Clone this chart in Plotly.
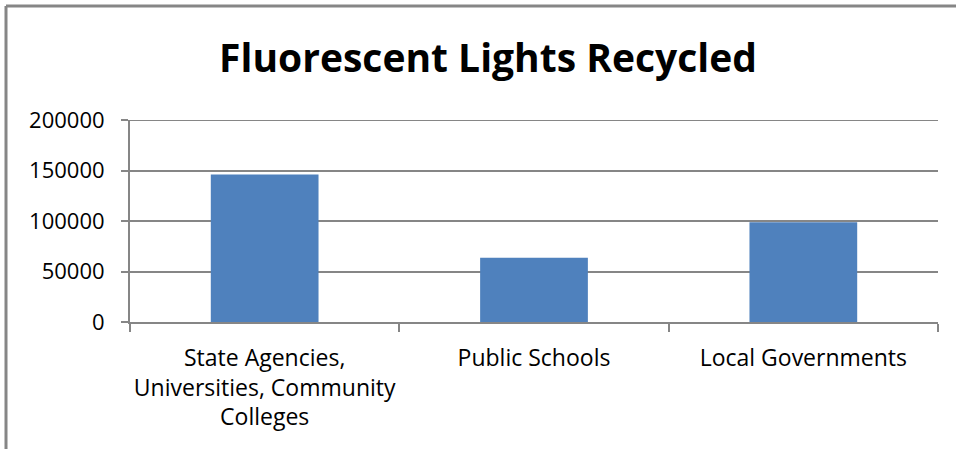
import plotly.graph_objects as go

# Lamp recycling totals by sector
categories = [
    "State Agencies,<br>Universities, Community<br>Colleges",
    "Public Schools",
    "Local Governments",
]
lights_recycled = [146000, 63600, 98700]
y_ticks = [0, 50000, 100000, 150000, 200000]

GRAY = "#868686"
BAR = "#4F81BD"
FONT = "Open Sans, Liberation Sans, sans-serif"

W, H = 956, 449
L, R, T, B = 130, 18, 120, 127
pw, ph = W - L - R, H - T - B

fig = go.Figure(
    go.Bar(
        x=categories,
        y=lights_recycled,
        marker=dict(color=BAR, line=dict(width=0)),
        hoverinfo="x+y",
    )
)

# outer chart frame (left and top edges visible)
def px_to_paper_x(px):
    return (px - L) / pw

def px_to_paper_y(py):
    return (H - B - py) / ph

frame_x = px_to_paper_x(6)
frame_y = px_to_paper_y(6)
fig.add_shape(type="line", xref="paper", yref="paper",
              x0=frame_x, x1=frame_x, y0=frame_y, y1=px_to_paper_y(H + 5),
              line=dict(color=GRAY, width=3))
fig.add_shape(type="line", xref="paper", yref="paper",
              x0=frame_x, x1=px_to_paper_x(W + 5), y0=frame_y, y1=frame_y,
              line=dict(color=GRAY, width=3))

# gridline at the top of the value range
fig.add_shape(type="line", xref="paper", yref="y",
              x0=0, x1=1, y0=y_ticks[-1], y1=y_ticks[-1],
              line=dict(color=GRAY, width=2), layer="below")

fig.update_layout(
    width=W, height=H,
    margin=dict(l=L, r=R, t=T, b=B, pad=0, autoexpand=False),
    paper_bgcolor="white", plot_bgcolor="white",
    bargap=0.6,
    showlegend=False,
    font=dict(family=FONT, size=23, color="black"),
    title=dict(
        text="<b>Fluorescent Lights Recycled</b>",
        x=488 / W, xanchor="center",
        y=1 - 58 / H, yanchor="middle",
        font=dict(family=FONT, size=39, color="black"),
    ),
    xaxis=dict(
        showline=True, linecolor=GRAY, linewidth=2,
        ticks="outside", tickson="boundaries", ticklen=8,
        tickcolor=GRAY, tickwidth=2,
        showgrid=False,
        tickangle=0,
        automargin=False,
        tickfont=dict(size=23),
        ticklabelstandoff=14,
    ),
    yaxis=dict(
        range=[0, 200000],
        tickvals=y_ticks,
        tickformat="d",
        showline=True, linecolor=GRAY, linewidth=2,
        ticks="outside", ticklen=7, tickcolor=GRAY, tickwidth=2,
        showgrid=True, gridcolor=GRAY, gridwidth=2,
        zeroline=False,
        automargin=False,
        tickfont=dict(size=22),
        ticklabelstandoff=12,
    ),
)

fig.write_html("out.html")
